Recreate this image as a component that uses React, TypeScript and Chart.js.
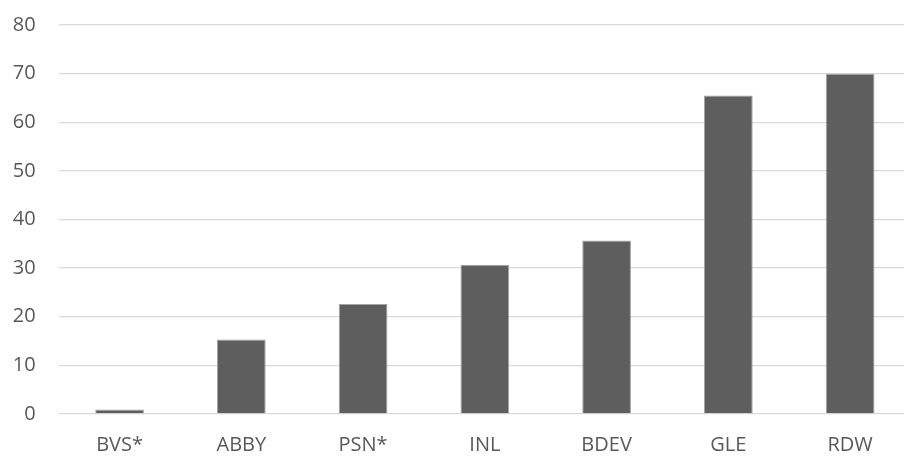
import React, { useEffect, useRef } from "react";
import { Chart, registerables } from "chart.js";

Chart.register(...registerables);

const categories = ["BVS*", "ABBY", "PSN*", "INL", "BDEV", "GLE", "RDW"];
const values = [0.9, 15.3, 22.6, 30.7, 35.7, 65.5, 70.0];
const yMin = 0;
const yMax = 80;
const yStep = 10;

export default function App() {
  const ref = useRef<HTMLCanvasElement | null>(null);

  useEffect(() => {
    if (!ref.current) return;
    const chart = new Chart(ref.current, {
      type: "bar",
      data: {
        labels: categories,
        datasets: [
          {
            data: values,
            backgroundColor: "#5e5e5e",
            borderColor: "#a3a3a3",
            borderWidth: 1,
            borderSkipped: "bottom",
            categoryPercentage: 1,
            barPercentage: 0.4,
          },
        ],
      },
      options: {
        animation: false,
        responsive: true,
        maintainAspectRatio: false,
        layout: { padding: { top: 14, right: 0, left: 0, bottom: 0 } },
        plugins: {
          legend: { display: false },
          tooltip: { enabled: false },
        },
        scales: {
          x: {
            grid: { display: false, drawTicks: false },
            border: { display: false },
            ticks: {
              color: "#595959",
              font: { family: "'Open Sans'", size: 20 },
              padding: 19,
              maxRotation: 0,
            },
            afterFit: (s: any) => {
              s.height = 43;
            },
          },
          y: {
            min: yMin,
            max: yMax,
            grid: { color: "#d9d9d9", lineWidth: 1.3, drawTicks: false },
            border: { display: false },
            ticks: {
              stepSize: yStep,
              color: "#595959",
              font: { family: "'Open Sans'", size: 20 },
              padding: 23,
            },
            afterFit: (s: any) => {
              s.width = 58.7;
            },
          },
        },
      },
    });
    return () => chart.destroy();
  }, []);

  return (
    <div
      style={{
        position: "fixed",
        left: 0,
        top: 0,
        width: 904,
        height: 457,
        overflow: "hidden",
        background: "#ffffff",
      }}
    >
      <div style={{ position: "absolute", left: 0, top: -10, width: 911, height: 467 }}>
        <canvas ref={ref} />
      </div>
    </div>
  );
}
